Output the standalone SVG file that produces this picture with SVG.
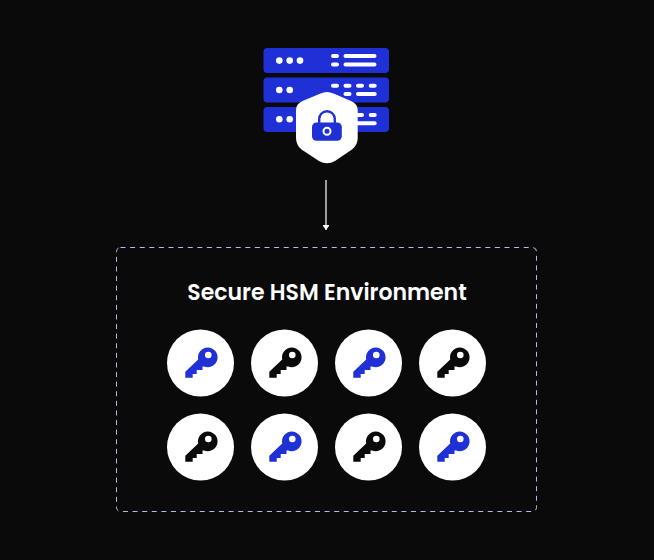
<svg xmlns="http://www.w3.org/2000/svg" width="654" height="560" viewBox="0 0 654 560">
<style>
.srv{fill:#1f30d6}
.w{fill:#fff}
.wl{stroke:#fff;stroke-width:4;stroke-linecap:round;fill:none}
.title{font-family:Poppins,"Inter","Noto Sans",sans-serif;font-size:22px;font-weight:600;fill:#fff}
.b{fill:#1f30d6}.k{fill:#0a0a0a}
</style>
<defs>
<marker id="ah" markerUnits="userSpaceOnUse" markerWidth="6" markerHeight="7" refX="5.500" refY="3" orient="auto" viewBox="0 0 6 6"><path d="M0.500 0H1.500L5.500 3L1.500 6H0.500Z" fill="#fff"/></marker>
<path id="keyshape" fill-rule="evenodd" d="M-15.700 8.700L-2.800 -3.600A9.800 9.800 0 1 1 3 3.400L1.500 3.400V7H-4.300V11H-8.300V14.700H-15.700ZM4 -8a3.300 3.300 0 1 0 6.600 0a3.300 3.300 0 1 0 -6.600 0Z"/>
</defs>
<rect width="654" height="560" fill="#0a0a0a"/>
<g id="server">
<rect class="srv" x="263.500" y="48" width="125.500" height="25" rx="4"/>
<rect class="srv" x="263.500" y="77.500" width="125.500" height="25" rx="4"/>
<rect class="srv" x="263.500" y="107" width="125.500" height="25" rx="4"/>
<g class="w">
<circle cx="279.300" cy="60.600" r="3.300"/><circle cx="289.700" cy="60.600" r="3.300"/><circle cx="300" cy="60.600" r="3.300"/>
<circle cx="279.300" cy="90" r="3.300"/><circle cx="289.700" cy="90" r="3.300"/>
<circle cx="279.300" cy="119.300" r="3.300"/><circle cx="289.700" cy="119.300" r="3.300"/>
</g>
<g class="wl">
<path d="M333 56H337M345.500 56H374.500M333 64.500H337M345.500 64.500H374.500"/>
<path d="M333 85.700H337M345.500 85.700H349.500M358 85.700H362M370.700 85.700H374.700M345.500 94H349.500M358 94H374.700"/>
<path d="M358 115H362M370.700 115H374.700M358 123.300H374.700"/>
</g>
</g>
<g id="shield">
<path class="w" d="M320.500 93.500Q327 90.500 333.500 93.500L351 101Q357.700 104 357.700 110V138Q357.700 145 352 149.500L335 161Q327 165.500 319 161L301.500 149.500Q296 145 296 138V110Q296 104 302.500 101Z"/>
<path d="M319.200 123V119A7.800 7.800 0 0 1 334.800 119V123" fill="none" stroke="#1f30d6" stroke-width="2.400"/>
<rect class="srv" x="312" y="122.500" width="29.800" height="18.300" rx="4.500"/>
<circle cx="327" cy="131.300" r="3.500" fill="none" stroke="#fff" stroke-width="2"/>
</g>
<g id="connectors">
<line x1="326" y1="180" x2="326" y2="230" stroke="#fff" stroke-width="1.200" marker-end="url(#ah)"/>
</g>
<g id="environment">
<rect x="116.500" y="247.500" width="420" height="264" rx="4" fill="none" stroke="#b4bce8" stroke-width="1" stroke-dasharray="5 4.600"/>
<text class="title" x="327" y="300" text-anchor="middle">Secure HSM Environment</text>
</g>
<g id="key1"><circle class="w" cx="200.500" cy="363" r="33.500"/><use href="#keyshape" class="b" x="201" y="363"/></g>
<g id="key2"><circle class="w" cx="284.500" cy="363" r="33.500"/><use href="#keyshape" class="k" x="285" y="363"/></g>
<g id="key3"><circle class="w" cx="368.500" cy="363" r="33.500"/><use href="#keyshape" class="b" x="369" y="363"/></g>
<g id="key4"><circle class="w" cx="452.500" cy="363" r="33.500"/><use href="#keyshape" class="k" x="453" y="363"/></g>
<g id="key5"><circle class="w" cx="200.500" cy="447" r="33.500"/><use href="#keyshape" class="k" x="201" y="447"/></g>
<g id="key6"><circle class="w" cx="284.500" cy="447" r="33.500"/><use href="#keyshape" class="b" x="285" y="447"/></g>
<g id="key7"><circle class="w" cx="368.500" cy="447" r="33.500"/><use href="#keyshape" class="k" x="369" y="447"/></g>
<g id="key8"><circle class="w" cx="452.500" cy="447" r="33.500"/><use href="#keyshape" class="b" x="453" y="447"/></g>
</svg>
